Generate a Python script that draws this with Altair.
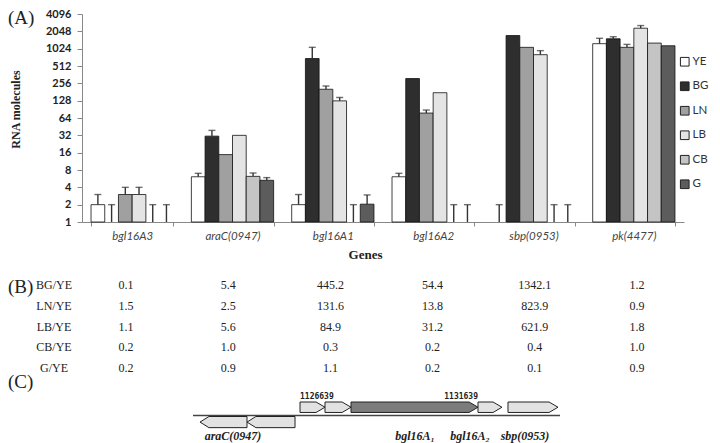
import altair as alt
import pandas as pd

# ---------------- data ----------------
genes = ["bgl16A3", "araC(0947)", "bgl16A1", "bgl16A2", "sbp(0953)", "pk(4477)"]
series = ["YE", "BG", "LN", "LB", "CB", "G"]

ye = [2, 6.1, 2, 6.1, 1, 1250]
ye_err = [3, 7.0, 3, 7.0, 2, 1550]
bg = [1, 31, 690, 310, 1730, 1520]
bg_err = [2, 39, 1080, None, None, 1650]
ln = [3, 14.8, 202, 78, 1080, 1080]
ln_err = [4, None, 230, 88, None, 1215]
lb = [3, 32, 127, 176, 805, 2320]
lb_err = [4, None, 145, None, 946, 2580]
cb = [1, 6.2, 1, 1, 1, 1280]
cb_err = [2, 7.1, 2, 2, 2, None]
g = [1, 5.3, 2.04, 1, 1, 1150]
g_err = [2, 5.9, 2.95, 2, 2, None]

y_ticks = [1, 2, 4, 8, 16, 32, 64, 128, 256, 512, 1024, 2048, 4096]

ratio_rows = ["BG/YE", "LN/YE", "LB/YE", "CB/YE", "G/YE"]
bg_ye = [0.1, 5.4, 445.2, 54.4, 1342.1, 1.2]
ln_ye = [1.5, 2.5, 131.6, 13.8, 823.9, 0.9]
lb_ye = [1.1, 5.6, 84.9, 31.2, 621.9, 1.8]
cb_ye = [0.2, 1.0, 0.3, 0.2, 0.4, 1.0]
g_ye = [0.2, 0.9, 1.1, 0.2, 0.1, 0.9]

map_names = ["araC-a", "araC-b", "orf-1", "orf-2", "bgl16A1", "bgl16A2", "sbp"]
map_start = [1123830, 1125150, 1126639, 1127341, 1128072, 1131639, 1132482]
map_end = [1125150, 1126499, 1127341, 1128072, 1131639, 1132313, 1133887]
map_strand = [-1, -1, 1, 1, 1, 1, 1]
contig = [1123633, 1133943]
coord_marks = [1126639, 1131639]
map_labels = ["araC(0947)", "bgl16A\u2081", "bgl16A\u2082", "sbp(0953)"]
map_label_pos = [1124757, 1129869, 1131414, 1132959]

# ---------------- tables ----------------
vals = [ye, bg, ln, lb, cb, g]
errs = [ye_err, bg_err, ln_err, lb_err, cb_err, g_err]
rows = []
for s, v, e in zip(series, vals, errs):
    for gi, gname in enumerate(genes):
        rows.append({"gene": gname, "series": s, "value": v[gi], "err": e[gi]})
dfA = pd.DataFrame(rows)

ratios = [bg_ye, ln_ye, lb_ye, cb_ye, g_ye]
dfB = pd.DataFrame([
    {"row": r, "gene": gname, "ratio": vals_r[gi]}
    for r, vals_r in zip(ratio_rows, ratios)
    for gi, gname in enumerate(genes)
])

# arrow polygons from gene start / end / strand
head = 250
pts = []
for n, s, e, st in zip(map_names, map_start, map_end, map_strand):
    h = min(head, (e - s) / 2)
    if st > 0:
        lo, hi = 0.45, 2.0
        m = (lo + hi) / 2
        pts += [{"gene": n, "x": s, "lo": lo, "hi": hi},
                {"gene": n, "x": e - h, "lo": lo, "hi": hi},
                {"gene": n, "x": e, "lo": m, "hi": m}]
    else:
        lo, hi = -0.15, -1.8
        m = (lo + hi) / 2
        pts += [{"gene": n, "x": s, "lo": m, "hi": m},
                {"gene": n, "x": s + h, "lo": lo, "hi": hi},
                {"gene": n, "x": e, "lo": lo, "hi": hi}]
dfC = pd.DataFrame(pts)
dfLine = pd.DataFrame({"x": [contig[0]], "x2": [contig[1]]})
dfCoord = pd.DataFrame({"pos": coord_marks, "txt": [str(c) for c in coord_marks]})
dfLab = pd.DataFrame({"pos": map_label_pos, "txt": map_labels})

fills = ["#ffffff", "#2e2e2e", "#a0a0a0", "#e4e4e4", "#c4c4c4", "#5c5c5c"]

# Layout: plot area of panel A spans page x 82..684, y 14..222
TOP = 14
# ---------------- panel A ----------------
xA = alt.X(
    "gene:N", sort=genes, title="Genes",
    scale=alt.Scale(paddingInner=0.18, paddingOuter=0.09),
    axis=alt.Axis(labelAngle=0, tickBand="extent", labelFont="Lato",
                  labelFontStyle="italic", labelFontSize=11.5, labelColor="#444",
                  labelPadding=4, tickSize=4, domainColor="#888", tickColor="#888",
                  titleFont="Liberation Serif", titleFontWeight="bold",
                  titleFontSize=13, titleColor="#222", titlePadding=7, titleX=283),
)
xoff = alt.XOffset("series:N", sort=series, scale=alt.Scale(paddingInner=0, paddingOuter=0))
yA = alt.Y(
    "value:Q", title="RNA molecules",
    scale=alt.Scale(type="log", base=2, domain=[1, 4096], nice=False),
    axis=alt.Axis(values=y_ticks, format="d", labelFont="Lato", labelFontWeight="bold",
                  labelFontSize=11, labelColor="#222", tickSize=5, labelPadding=6,
                  domainColor="#888", tickColor="#888", grid=False,
                  titleFont="Liberation Serif", titleFontWeight="bold",
                  titleFontSize=12, titleColor="#222", titleX=-67, titleY=95,
                  titleAlign="center", titleBaseline="middle"),
)

bars = alt.Chart(dfA).transform_filter("datum.value > 1").mark_bar(
    stroke="#111", strokeWidth=0.8
).encode(
    x=xA, xOffset=xoff, y=yA, y2=alt.Y2(datum=1),
    fill=alt.Fill("series:N", sort=series, scale=alt.Scale(domain=series, range=fills),
                  legend=alt.Legend(title=None, orient="none", legendX=597, legendY=42,
                                    symbolType="square", symbolSize=75,
                                    symbolStrokeColor="#222", symbolStrokeWidth=1,
                                    labelFont="Lato", labelFontSize=11.5, labelColor="#333",
                                    rowPadding=10.5, labelOffset=2, padding=0)),
)
rules = alt.Chart(dfA).transform_filter("isValid(datum.err)").mark_rule(
    color="#333", strokeWidth=1.4
).encode(x=xA, xOffset=xoff, y=yA, y2="err:Q")
caps = alt.Chart(dfA).transform_filter("isValid(datum.err)").mark_tick(
    color="#333", size=7, thickness=1.4
).encode(x=xA, xOffset=xoff, y=alt.Y("err:Q"))

panelA = alt.layer(bars, rules, caps)

# ---------------- panel B ----------------
yB = alt.Y("row:N", sort=ratio_rows, axis=None,
           scale=alt.Scale(type="point", range=[285 - TOP, 368 - TOP], padding=0))
cells = alt.Chart(dfB).mark_text(font="Liberation Serif", fontSize=12, color="#222").encode(
    x=alt.X("gene:N", sort=genes, axis=None,
            scale=alt.Scale(type="point", range=[44, 555], padding=0)),
    y=yB,
    text=alt.Text("ratio:Q", format=".1f"),
)
rowlab = alt.Chart(pd.DataFrame({"row": ratio_rows})).mark_text(
    font="Liberation Serif", fontSize=12, color="#222"
).encode(x=alt.value(-28), y=yB, text="row:N")
panelB = alt.layer(rowlab, cells)

# ---------------- panel C ----------------
xscaleC = alt.Scale(domain=contig, range=[111, 478], nice=False, zero=False)
yC = alt.Scale(domain=[-2, 2], range=[429 - TOP, 402 - TOP], nice=False, zero=False)

line = alt.Chart(dfLine).mark_rule(color="#444", strokeWidth=1.6).encode(
    x=alt.X("x:Q", axis=None, scale=xscaleC), x2="x2:Q", y=alt.Y(datum=0, scale=yC, axis=None))
arrows = alt.Chart(dfC).mark_area(stroke="#222", strokeWidth=1, interpolate="linear").encode(
    x=alt.X("x:Q", axis=None, scale=xscaleC),
    y=alt.Y("lo:Q", scale=yC, axis=None),
    y2="hi:Q",
    detail="gene:N",
    fill=alt.condition(alt.datum.gene == "bgl16A1", alt.value("#7c7c7c"), alt.value("#e2e2e2")),
)
coord1 = alt.Chart(dfCoord).transform_filter(f"datum.pos == {coord_marks[0]}").mark_text(
    font="DejaVu Sans Mono", fontWeight="bold", fontSize=8, color="#222", align="left"
).encode(x=alt.X("pos:Q", axis=None, scale=xscaleC),
         y=alt.Y(datum=2.7, scale=yC, axis=None), text="txt:N")
coord2 = alt.Chart(dfCoord).transform_filter(f"datum.pos == {coord_marks[1]}").mark_text(
    font="DejaVu Sans Mono", fontWeight="bold", fontSize=8, color="#222", align="right"
).encode(x=alt.X("pos:Q", axis=None, scale=xscaleC),
         y=alt.Y(datum=2.7, scale=yC, axis=None), text="txt:N")
labs = alt.Chart(dfLab).mark_text(
    font="Liberation Serif", fontWeight="bold", fontStyle="italic", fontSize=12, color="#222"
).encode(x=alt.X("pos:Q", axis=None, scale=xscaleC),
         y=alt.Y(datum=-3.0, scale=yC, axis=None), text="txt:N")
panelC = alt.layer(line, arrows, coord1, coord2, labs)

# ---------------- panel letters ----------------
def letter(t, yy):
    return alt.Chart(pd.DataFrame({"t": [t]})).mark_text(
        font="Liberation Serif", fontSize=19, color="#222", align="left", baseline="middle"
    ).encode(x=alt.value(-74), y=alt.value(yy), text="t:N")

letters = alt.layer(letter("(A)", 18 - TOP), letter("(B)", 287 - TOP), letter("(C)", 382 - TOP))

chart = alt.layer(panelA, panelB, panelC, letters).resolve_scale(
    x="independent", y="independent"
).properties(
    width=602, height=222 - TOP,
    padding={"left": 74, "top": TOP - 8, "right": 28, "bottom": 443 - 222},
    autosize=alt.AutoSizeParams(type="none"),
    background="white",
).configure_view(stroke=None)

chart.save("out.html", embed_options={"renderer": "svg", "actions": False})
